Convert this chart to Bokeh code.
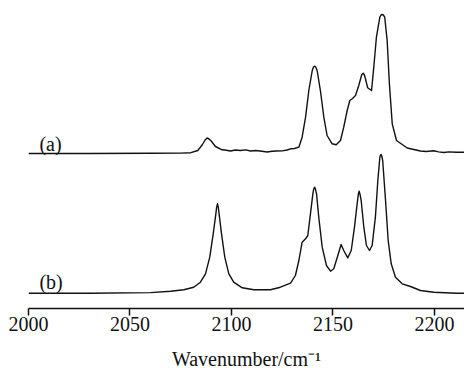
from bokeh.plotting import figure
from bokeh.models import Range1d, FixedTicker, Label
from bokeh.embed import file_html
from bokeh.resources import INLINE

# ---- data: spectrum (a), wavenumber (cm-1) and intensity (a.u.) ----
wn_a = [2000, 2030, 2060, 2075, 2080, 2083.4, 2085.7, 2087.0, 2088.0, 2089.0, 2090.0, 2092.1, 2095.4,
        2097.5, 2099.5, 2102, 2104.4, 2107, 2109.4, 2112, 2115, 2117.6, 2120, 2122,
        2125, 2127.4, 2129.1, 2131, 2133.2, 2134.8, 2136.5, 2138.1, 2139.8, 2140.4, 2140.9,
        2141.5, 2142.2, 2143.8, 2145.5, 2147.1, 2149.6, 2151.6, 2153.7, 2155.3, 2157.0, 2158.3,
        2159.5, 2161.1, 2162.7, 2164.2, 2164.9, 2165.5, 2166.0, 2167.1, 2169.0, 2170.1, 2171.4, 2173.1,
        2173.7, 2174.2, 2174.8, 2175.5, 2176.7, 2177.8, 2179.2, 2181.3, 2184.1, 2186.6, 2189.8, 2193.1,
        2196, 2199.7, 2202, 2204.6, 2207, 2210.8, 2214.8]
int_a = [0, 0, 0.3, 0.4, 0.8, 3, 9, 13.5, 15.5, 14.5, 12.5, 7, 3.7,
         3.2, 2.5, 3.5, 3.0, 3.6, 2.5, 3.0, 2.2, 1.5, 2.2, 2.5,
         2.6, 3.5, 4.7, 5.0, 6.3, 16.3, 36.3, 63, 83, 86.5, 87.3,
         86.5, 83, 63, 36.3, 18, 9.7, 8.7, 13, 26.3, 43, 53,
         54.7, 58, 68, 79, 80.3, 78.5, 74.7, 65.7, 63, 86.3, 116.3, 136.3,
         138.5, 139, 138.5, 136.3, 113, 69.7, 29.7, 13, 9, 5.5, 4, 2.5,
         2.0, 2.8, 1.6, 1.0, 1.6, 1.3, 1.3]

# ---- data: spectrum (b) ----
wn_b = [2000, 2030, 2060.1, 2070.0, 2076.5, 2081.4, 2084.7, 2087.2, 2089.3, 2091.0,
        2092.3, 2092.7, 2093.1, 2093.5, 2093.9, 2095.1, 2096.7, 2098.7, 2101.1, 2105.3, 2111.0, 2119.2,
        2124.1, 2129.1, 2131.5, 2133.2, 2134.8, 2136.5, 2137.6, 2138.9, 2140.2, 2140.6, 2140.9,
        2141.3, 2141.9, 2143.0, 2144.7, 2146.8, 2148.8, 2150.4, 2152.4, 2154.0, 2155.3, 2157.3,
        2159.0, 2160.6, 2161.9, 2162.5, 2162.9, 2163.3, 2163.9, 2165.2, 2166.5, 2168.0, 2169.3, 2170.9,
        2172.1, 2173.1, 2173.4, 2173.7, 2174.0, 2174.5, 2175.9, 2177.2, 2178.7, 2180.8, 2184.1, 2188.2,
        2193.1, 2199.7, 2210.8, 2214.8]
int_b = [0, 0, 0.6, 2, 3.4, 6, 11, 19.4, 36, 59.4,
         79.4, 86, 89.4, 86, 79.4, 59.4, 36, 19.4, 11, 5.4, 3.4, 3.4,
         6, 10, 17.7, 32.7, 51, 54.4, 57.7, 79.4, 101, 104.5, 106,
         104.5, 99.4, 76, 46, 27.7, 22, 24.4, 37.7, 48.7, 42.7, 35.4,
         42.7, 66, 89.4, 99, 102, 99, 92.7, 66, 47.7, 42.7, 47.7, 76,
         112.7, 136, 138, 138.7, 137.5, 132.7, 92.7, 52.7, 29.4, 16, 9.4, 6.7,
         2.7, 1.0, 0, 0]

tick_values = [2000, 2050, 2100, 2150, 2200]
trace_labels = ["(a)", "(b)"]

# vertical stacking offsets of the two traces
OFFSET_A = 155
OFFSET_B = 15.3

p = figure(frame_width=436, frame_height=300, output_backend="svg",
           toolbar_location=None, y_axis_location=None,
           x_range=Range1d(2000, 2214.8), y_range=Range1d(0, 300),
           min_border_left=28, min_border_right=0, min_border_top=8)
p.outline_line_color = None
p.grid.visible = False
p.background_fill_color = "white"
p.border_fill_color = "white"

p.line(wn_a, [v + OFFSET_A for v in int_a], line_color="#111111", line_width=1.4,
       line_join="round")
p.line(wn_b, [v + OFFSET_B for v in int_b], line_color="#111111", line_width=1.4,
       line_join="round")

font = "'Liberation Serif', 'Times New Roman', serif"
for txt, yv in zip(trace_labels, [165, 27]):
    p.add_layout(Label(x=2005.4, y=yv, text=txt, text_font=font, text_font_size="20px",
                       text_color="#111111", text_baseline="alphabetic"))

ax = p.xaxis[0]
ax.ticker = FixedTicker(ticks=tick_values)
ax.minor_tick_line_color = None
ax.major_tick_in = 0
ax.major_tick_out = 7
ax.axis_line_width = 1.5
ax.major_tick_line_width = 1.5
ax.axis_line_color = "#111111"
ax.major_tick_line_color = "#111111"
ax.major_label_text_font = font
ax.major_label_text_font_size = "20px"
ax.major_label_text_color = "#111111"
ax.major_label_standoff = 1
ax.axis_label = "Wavenumber/cm\u207b\u00b9"
ax.axis_label_text_font = font
ax.axis_label_text_font_size = "20px"
ax.axis_label_text_font_style = "normal"
ax.axis_label_text_color = "#111111"
ax.axis_label_standoff = 14

open("out.html", "w").write(file_html(p, INLINE))
